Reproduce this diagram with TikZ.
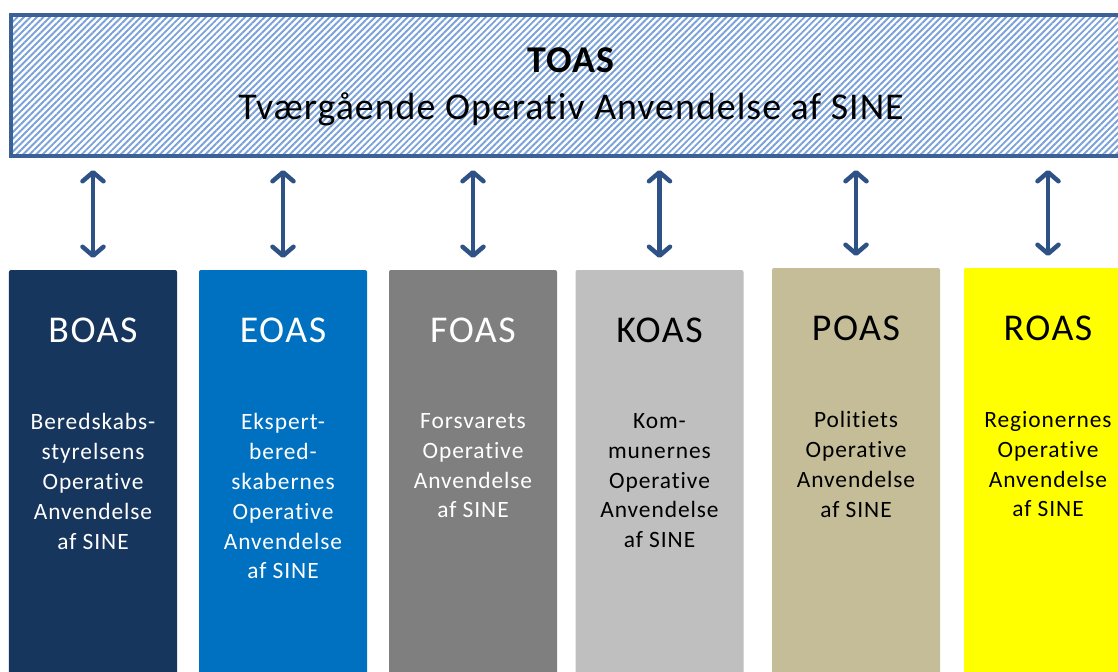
\documentclass[tikz,border=0pt]{standalone}
\usepackage{fontspec}
\setmainfont[Ligatures=NoCommon]{Carlito}
\newfontfamily\topfont[Ligatures=NoCommon,LetterSpace=2.7]{Carlito}
\newfontfamily\titlefont[Ligatures=NoCommon,LetterSpace=4]{Carlito}
\newfontfamily\bodyfont[Ligatures=NoCommon,LetterSpace=4]{Carlito}
\usetikzlibrary{arrows.meta,patterns.meta}
\definecolor{bordblue}{HTML}{3B6196}
\definecolor{hatchblue}{HTML}{7AA2D8}
\definecolor{arrblue}{HTML}{2E5286}
\definecolor{cBOAS}{HTML}{17365D}
\definecolor{cEOAS}{HTML}{0070C0}
\definecolor{cFOAS}{HTML}{7F7F7F}
\definecolor{cKOAS}{HTML}{BFBFBF}
\definecolor{cPOAS}{HTML}{C4BD97}
\definecolor{cROAS}{HTML}{FFFF00}
\tikzset{
  colbox/.style={rectangle, rounded corners=2bp, minimum width=168bp, minimum height=440bp, anchor=north, outer sep=0pt, inner sep=0pt},
  coltitle/.style={font=\titlefont\fontsize{38}{40}\selectfont, inner sep=0pt},
  coltext/.style={font=\bodyfont\fontsize{23.5}{30}\selectfont, align=center, anchor=north, inner sep=0pt},
  biarrow/.style={draw=arrblue, line width=4.5bp, {Straight Barb[length=9bp,width=21bp,round]}-{Straight Barb[length=9bp,width=21bp,round]}, shorten <=14bp, shorten >=12bp},
}
\begin{document}
\begin{tikzpicture}[x=1bp,y=-1bp]
\useasboundingbox (0,0) rectangle (1118,672);
\clip (0,0) rectangle (1118,672);
\fill[white] (0,0) rectangle (1118,672);
% top box
\node[rectangle, draw=bordblue, line width=4bp, outer sep=0pt,
      pattern={Lines[angle=45,distance=4.6bp,line width=1.9bp]}, pattern color=hatchblue,
      minimum width=1122bp, minimum height=141bp] (toas) at (572,85.5) {};
\node[font=\topfont\fontsize{38}{46}\selectfont\bfseries, inner sep=0pt] (toast) at (571,60) {TOAS};
\node[font=\topfont\fontsize{38}{46}\selectfont, inner sep=0pt] (toasl) at (571,109) {Tværgående Operativ Anvendelse af SINE};
% columns
\node[colbox, fill=cBOAS] (boas) at (93,270) {};
\node[colbox, fill=cEOAS] (eoas) at (283,270) {};
\node[colbox, fill=cFOAS] (foas) at (473,270) {};
\node[colbox, fill=cKOAS] (koas) at (659.5,270) {};
\node[colbox, fill=cPOAS] (poas) at (856,268) {};
\node[colbox, fill=cROAS] (roas) at (1048,268) {};
% titles
\node[coltitle, text=white] (boast) at (93,330) {BOAS};
\node[coltitle, text=white] (eoast) at (283,330) {EOAS};
\node[coltitle, text=white] (foast) at (473,330) {FOAS};
\node[coltitle, text=black] (koast) at (659.5,330) {KOAS};
\node[coltitle, text=black] (poast) at (856,328) {POAS};
\node[coltitle, text=black] (roast) at (1048,328) {ROAS};
% descriptions
\node[coltext, text=white] (boasd) at (93,413) {Beredskabs-\\styrelsens\\Operative\\Anvendelse\\af SINE};
\node[coltext, text=white] (eoasd) at (283,413) {Ekspert-\\bered-\\skabernes\\Operative\\Anvendelse\\af SINE};
\node[coltext, text=white] (foasd) at (473,413) {Forsvarets\\Operative\\Anvendelse\\af SINE};
\node[coltext, text=black] (koasd) at (659.5,413) {Kom-\\munernes\\Operative\\Anvendelse\\af SINE};
\node[coltext, text=black] (poasd) at (856,411) {Politiets\\Operative\\Anvendelse\\af SINE};
\node[coltext, text=black] (roasd) at (1048,411) {Regionernes\\Operative\\Anvendelse\\af SINE};
% arrows
\foreach \c in {boas,eoas,foas,koas,poas,roas}{
  \draw[biarrow] (toas.south -| \c.north) -- (\c.north);
}
\end{tikzpicture}
\end{document}
